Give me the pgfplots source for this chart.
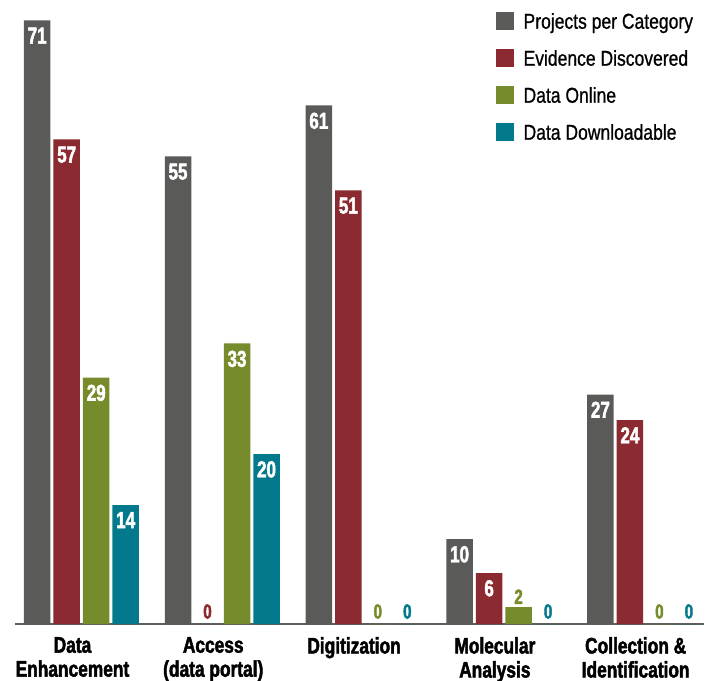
\documentclass[border=0pt]{standalone}
\usepackage{fontspec}
\setmainfont{Liberation Sans}
\newfontfamily\catfont{Liberation Sans}[FakeStretch=0.77, BoldFeatures={FakeBold=2}]
\newfontfamily\numfont{Liberation Sans}[FakeStretch=0.74, BoldFeatures={FakeBold=2}]
\newfontfamily\legfont{Liberation Sans}[FakeStretch=0.815, UprightFeatures={FakeBold=0.8}]
\usepackage{pgfplots}
\pgfplotsset{compat=1.18}
\definecolor{cgray}{HTML}{5A5B59}
\definecolor{cred}{HTML}{8B2A30}
\definecolor{cgreen}{HTML}{768B2C}
\definecolor{cteal}{HTML}{037A8B}
\definecolor{caxis}{HTML}{5E5F5D}
\begin{document}
\begin{tikzpicture}
\path[use as bounding box] (-15bp,-57bp) rectangle (694bp,624bp);
\begin{axis}[
  x=140.8bp, y=8.5bp,
  xmin=-0.472, xmax=4.421, ymin=0, ymax=72,
  clip=false,
  axis x line=bottom, axis y line=none,
  x axis line style={-, line width=2bp, color=caxis},
  xtick={0,1,2,3,4},
  xticklabels={{Data\\Enhancement},{Access\\(data portal)},{Digitization},{Molecular\\Analysis},{Collection \&\\Identification}},
  major tick length=0pt,
  xticklabel style={align=center, font=\catfont\bfseries\fontsize{22.5bp}{24bp}\selectfont, inner sep=0pt, yshift=-13bp, xshift=-9bp},
  /pgf/number format/assume math mode=true,
  ybar, bar width=26.5bp,
  legend style={draw=none, fill=none, at={(0.698,1)}, anchor=north west, inner sep=0pt,
    font=\legfont\fontsize{21.5bp}{21.5bp}\selectfont, row sep=15.5bp, column sep=9.5bp,
    nodes={inner sep=0pt, text height=16bp, text depth=5bp}},
  legend cell align=left,
  legend image code/.code={\fill[#1] (0bp,-7bp) rectangle (18bp,11bp);},
  inlab/.style={forget plot, draw=none, fill=none, nodes near coords,
    nodes near coords style={anchor=north, text=white, inner sep=0pt, yshift=-7bp,
      font=\numfont\bfseries\fontsize{23bp}{23bp}\selectfont}},
  outlab/.style={forget plot, draw=none, fill=none, nodes near coords,
    nodes near coords style={anchor=south, text=#1, inner sep=0pt, yshift=5bp,
      font=\numfont\bfseries\fontsize{20.5bp}{20.5bp}\selectfont}},
]
\addplot[fill=cgray, draw=none, bar shift=-44.25bp] coordinates {(0,71)(1,55)(2,61)(3,10)(4,27)};
\addlegendentry{Projects per Category}
\addplot[fill=cred, draw=none, bar shift=-14.75bp] coordinates {(0,57)(1,0)(2,51)(3,6)(4,24)};
\addlegendentry{Evidence Discovered}
\addplot[fill=cgreen, draw=none, bar shift=14.75bp] coordinates {(0,29)(1,33)(2,0)(3,2)(4,0)};
\addlegendentry{Data Online}
\addplot[fill=cteal, draw=none, bar shift=44.25bp] coordinates {(0,14)(1,20)(2,0)(3,0)(4,0)};
\addlegendentry{Data Downloadable}
% labels inside bars
\addplot[inlab, bar shift=-44.25bp] coordinates {(0,71)(1,55)(2,61)(3,10)(4,27)};
\addplot[inlab, bar shift=-14.75bp] coordinates {(0,57)(2,51)(3,6)(4,24)};
\addplot[inlab, bar shift=14.75bp] coordinates {(0,29)(1,33)};
\addplot[inlab, bar shift=44.25bp] coordinates {(0,14)(1,20)};
% labels above short bars
\addplot[outlab=cred, bar shift=-14.75bp] coordinates {(1,0)};
\addplot[outlab=cgreen, bar shift=14.75bp] coordinates {(2,0)(4,0)};
\addplot[outlab=cgreen, bar shift=14.75bp, nodes near coords style={yshift=-2bp}] coordinates {(3,2)};
\addplot[outlab=cteal, bar shift=44.25bp] coordinates {(2,0)(3,0)(4,0)};
\end{axis}
\end{tikzpicture}
\end{document}
